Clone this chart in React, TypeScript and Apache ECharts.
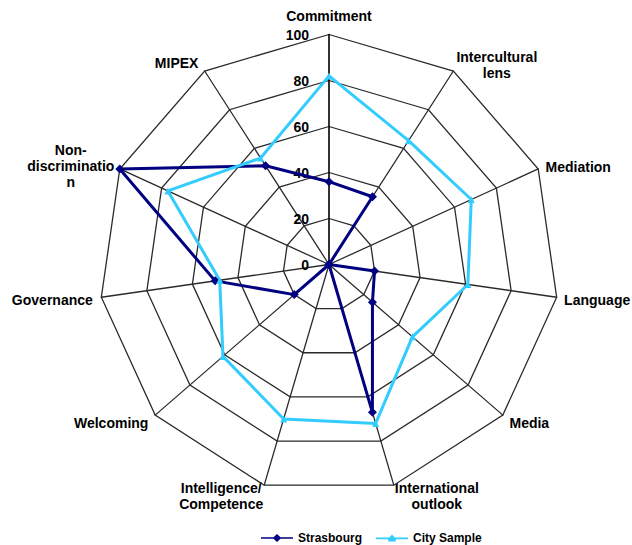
import React, { useEffect, useRef } from 'react';
import * as echarts from 'echarts';

// Indicator names, listed clockwise from the top axis
const axisNames = [
  'Commitment',
  'Intercultural\nlens',
  'Mediation',
  'Language',
  'Media',
  'International\noutlook',
  'Intelligence/\nCompetence',
  'Welcoming',
  'Governance',
  'Non-\ndiscriminatio\nn',
  'MIPEX',
];

// Scores per indicator, same clockwise order
const strasbourg = [36, 35, 0, 20, 25, 67, 0, 20, 50, 100, 51];
const citySample = [82, 64, 68, 61, 48, 72, 70, 61, 48, 77, 55];

const seriesNames = ['Strasbourg', 'City Sample'];
const seriesColors = ['#000080', '#33CCFF'];

const scaleMax = 100;
const scaleSteps = 5;

// Layout of the radar
const CX = 329;
const CY = 264.5;
const R = 230;

// Offsets of each indicator caption from its outer vertex
const captionOffsets: [number, number][] = [
  [0, -18.5],
  [43.5, -6.5],
  [40, -2],
  [40.5, 3],
  [26.5, 8],
  [43, 11],
  [-43, 11],
  [-44, 8],
  [-49, 2.5],
  [-49, -3],
  [-28, -8],
];

// ECharts lays indicators out counter-clockwise; flip to run clockwise
const toCcw = <T,>(arr: T[]): T[] => [arr[0], ...arr.slice(1).reverse()];

const FONT = '"Liberation Sans", Arial, sans-serif';
const GRID = '#2a2a2a';

export default function App() {
  const ref = useRef<HTMLDivElement>(null);

  useEffect(() => {
    if (!ref.current) return;
    const chart = echarts.init(ref.current, undefined, { renderer: 'svg' });

    const indicator = toCcw(axisNames).map((name, i) =>
      i === 0
        ? {
            name,
            max: scaleMax,
            min: 0,
            axisLine: { lineStyle: { color: '#000', width: 1.6 } },
            axisLabel: {
              show: true,
              color: '#000',
              fontSize: 14,
              fontWeight: 'bold',
              fontFamily: FONT,
              margin: 20,
              showMinLabel: true,
              showMaxLabel: true,
            },
          }
        : { name, max: scaleMax, min: 0 }
    );

    const n = axisNames.length;
    const captions = axisNames.map((name, i) => {
      const a = ((90 - (i * 360) / n) * Math.PI) / 180;
      const vx = CX + R * Math.cos(a);
      const vy = CY - R * Math.sin(a);
      const [dx, dy] = captionOffsets[i];
      return {
        type: 'text',
        x: vx + dx,
        y: vy + dy,
        style: {
          text: name,
          fill: '#000',
          font: `bold 14px ${FONT}`,
          align: 'center',
          verticalAlign: 'middle',
          lineHeight: 16,
        },
      };
    });

    const legendIcons = [
      'path://M0,3.2H12.5L16,0L19.5,3.2H32V4.8H19.5L16,8L12.5,4.8H0Z',
      'path://M0,3.2H13.2L16,0.2L18.8,3.2H32V4.8H19.8L19.8,7L12.2,7L12.2,4.8H0Z',
    ];

    chart.setOption({
      animation: false,
      backgroundColor: '#fff',
      legend: {
        left: 256,
        top: 527,
        itemWidth: 32,
        itemHeight: 8,
        itemGap: 14,
        textStyle: { color: '#000', fontSize: 12, fontWeight: 'bold', fontFamily: FONT },
        data: seriesNames.map((name, i) => ({ name, icon: legendIcons[i] })),
      },
      radar: {
        center: [CX, CY],
        radius: R,
        startAngle: 90,
        shape: 'polygon',
        splitNumber: scaleSteps,
        indicator,
        axisName: { show: false },
        axisLine: { lineStyle: { color: GRID, width: 1.3 } },
        splitLine: { lineStyle: { color: GRID, width: 1.3 } },
        splitArea: { show: false },
        axisTick: { show: false },
        axisLabel: { show: false },
      },
      series: [
        {
          type: 'radar',
          data: [
            {
              name: seriesNames[0],
              value: toCcw(strasbourg),
              symbol: 'diamond',
              symbolSize: 9,
              lineStyle: { color: seriesColors[0], width: 3 },
              itemStyle: { color: seriesColors[0] },
            },
            {
              name: seriesNames[1],
              value: toCcw(citySample),
              symbol: 'triangle',
              symbolSize: 7,
              lineStyle: { color: seriesColors[1], width: 3 },
              itemStyle: { color: seriesColors[1] },
            },
          ],
        },
      ],
      graphic: captions,
    });

    return () => chart.dispose();
  }, []);

  return (
    <div
      ref={ref}
      style={{ position: 'absolute', left: 0, top: 0, width: 632, height: 545, background: '#fff' }}
    />
  );
}
